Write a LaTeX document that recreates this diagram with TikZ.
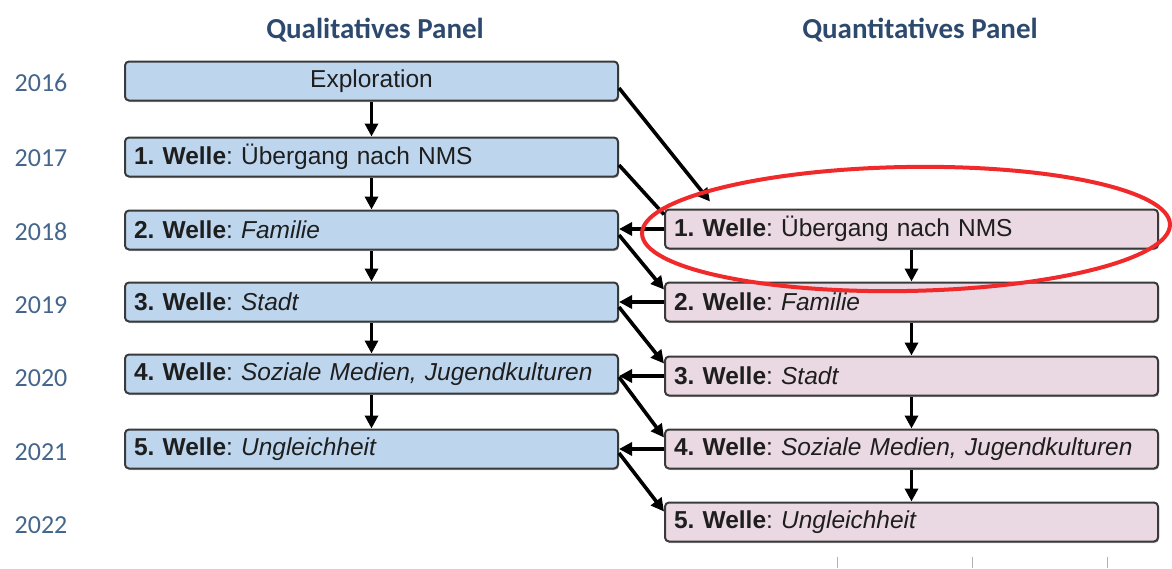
\documentclass[tikz,border=0pt]{standalone}
\usepackage{fontspec}
\setmainfont{Liberation Sans}
\newfontfamily\calibri{Carlito}
\usetikzlibrary{arrows.meta,shadows}
\definecolor{qualfill}{HTML}{BDD6EE}
\definecolor{quantfill}{HTML}{EAD8E2}
\definecolor{boxdraw}{HTML}{3A3A3A}
\definecolor{yearcol}{HTML}{45668C}
\definecolor{headcol}{HTML}{2D4A6E}
\definecolor{ringred}{HTML}{F02A2A}
\definecolor{txtcol}{HTML}{1E1E1E}
\frenchspacing
\begin{document}
\begin{tikzpicture}[x=1pt,y=-1pt,
 wbox/.style={draw=boxdraw, line width=2pt, rounded corners=4pt,
   minimum width=493pt, minimum height=39pt, text width=475pt, align=left,
   inner xsep=9pt, inner ysep=0pt, text=txtcol,
   font=\fontsize{24.5}{28}\selectfont, anchor=west,
   drop shadow={shadow xshift=1pt,shadow yshift=-1.5pt,fill=black!40,opacity=0.6}},
 qual/.style={wbox, fill=qualfill},
 quant/.style={wbox, fill=quantfill},
 year/.style={font=\calibri\fontsize{26}{30}\selectfont, text=yearcol, anchor=center},
 head/.style={font=\calibri\bfseries\fontsize{29}{34}\selectfont, text=headcol, anchor=center},
 arr/.style={line width=3.6pt, -{Triangle[length=13pt,width=13pt]}},
 ln/.style={line width=3.6pt},
 tick/.style={draw=black!30, line width=1pt}
]
\useasboundingbox (0,0) rectangle (1172,568);

% headers
\node[head] (hq) at (375,30) {Qualitatives Panel};
\node[head] (hn) at (920,30) {Quantitatives Panel};

% years
\node[year] (y16) at (41,83) {2016};
\node[year] (y17) at (41,158) {2017};
\node[year] (y18) at (41,232) {2018};
\node[year] (y19) at (41,305) {2019};
\node[year] (y20) at (41,378) {2020};
\node[year] (y21) at (41,452) {2021};
\node[year] (y22) at (41,525) {2022};

% qualitative boxes
\node[qual, align=center] (q0) at (124,81) {Exploration};
\node[qual] (q1) at (124,157) {\textbf{1. Welle}: Übergang nach NMS};
\node[qual] (q2) at (124,230) {\textbf{2. Welle}: \textit{Familie}};
\node[qual] (q3) at (124,302) {\textbf{3. Welle}: \textit{Stadt}};
\node[qual] (q4) at (124,374) {\textbf{4. Welle}: \textit{Soziale Medien, Jugendkulturen}};
\node[qual] (q5) at (124,449) {\textbf{5. Welle}: \textit{Ungleichheit}};

% quantitative boxes
\node[quant] (p1) at (664,229) {\textbf{1. Welle}: Übergang nach NMS};
\node[quant] (p2) at (664,302) {\textbf{2. Welle}: \textit{Familie}};
\node[quant] (p3) at (664,376) {\textbf{3. Welle}: \textit{Stadt}};
\node[quant] (p4) at (664,449) {\textbf{4. Welle}: \textit{Soziale Medien, Jugendkulturen}};
\node[quant] (p5) at (664,522) {\textbf{5. Welle}: \textit{Ungleichheit}};

% vertical arrows
\draw[arr] (q0.south) -- (q1.north);
\draw[arr] (q1.south) -- (q2.north);
\draw[arr] (q2.south) -- (q3.north);
\draw[arr] (q3.south) -- (q4.north);
\draw[arr] (q4.south) -- (q5.north);
\draw[arr] (p1.south) -- (p2.north);
\draw[arr] (p2.south) -- (p3.north);
\draw[arr] (p3.south) -- (p4.north);
\draw[arr] (p4.south) -- (p5.north);

% horizontal arrows (quantitative -> qualitative)
\draw[arr] (p1.west) -- (p1.west -| q2.east);
\draw[arr] (p2.west) -- (p2.west -| q3.east);
\draw[arr] (p3.west) -- (p3.west -| q4.east);
\draw[arr] (p4.west) -- (p4.west -| q5.east);

% diagonal arrows (qualitative -> quantitative)
\draw[arr] ([yshift=-7pt]q0.east) -- ([shift={(46pt,7pt)}]p1.north west);
\draw[ln] ([yshift=-8pt]q1.east) -- ([yshift=-6pt]p1.north west);
\draw[arr] ([yshift=-5pt]q2.east) -- ([yshift=-8pt]p2.north west);
\draw[arr] ([yshift=-5pt]q3.east) -- ([yshift=-8pt]p3.north west);
\draw[arr] ([yshift=-3pt]q4.east) -- ([yshift=-9pt]p4.north west);
\draw[arr] ([yshift=-4pt]q5.east) -- ([yshift=-10pt]p5.north west);

% red highlight ellipse
\draw[ringred, line width=4pt, rotate around={1:(906,229)}] (906,229) ellipse [x radius=264pt, y radius=62pt];

% axis ticks at the bottom
\draw[tick] (837,557) -- (837,568);
\draw[tick] (972,557) -- (972,568);
\draw[tick] (1107,557) -- (1107,568);
\end{tikzpicture}
\end{document}
